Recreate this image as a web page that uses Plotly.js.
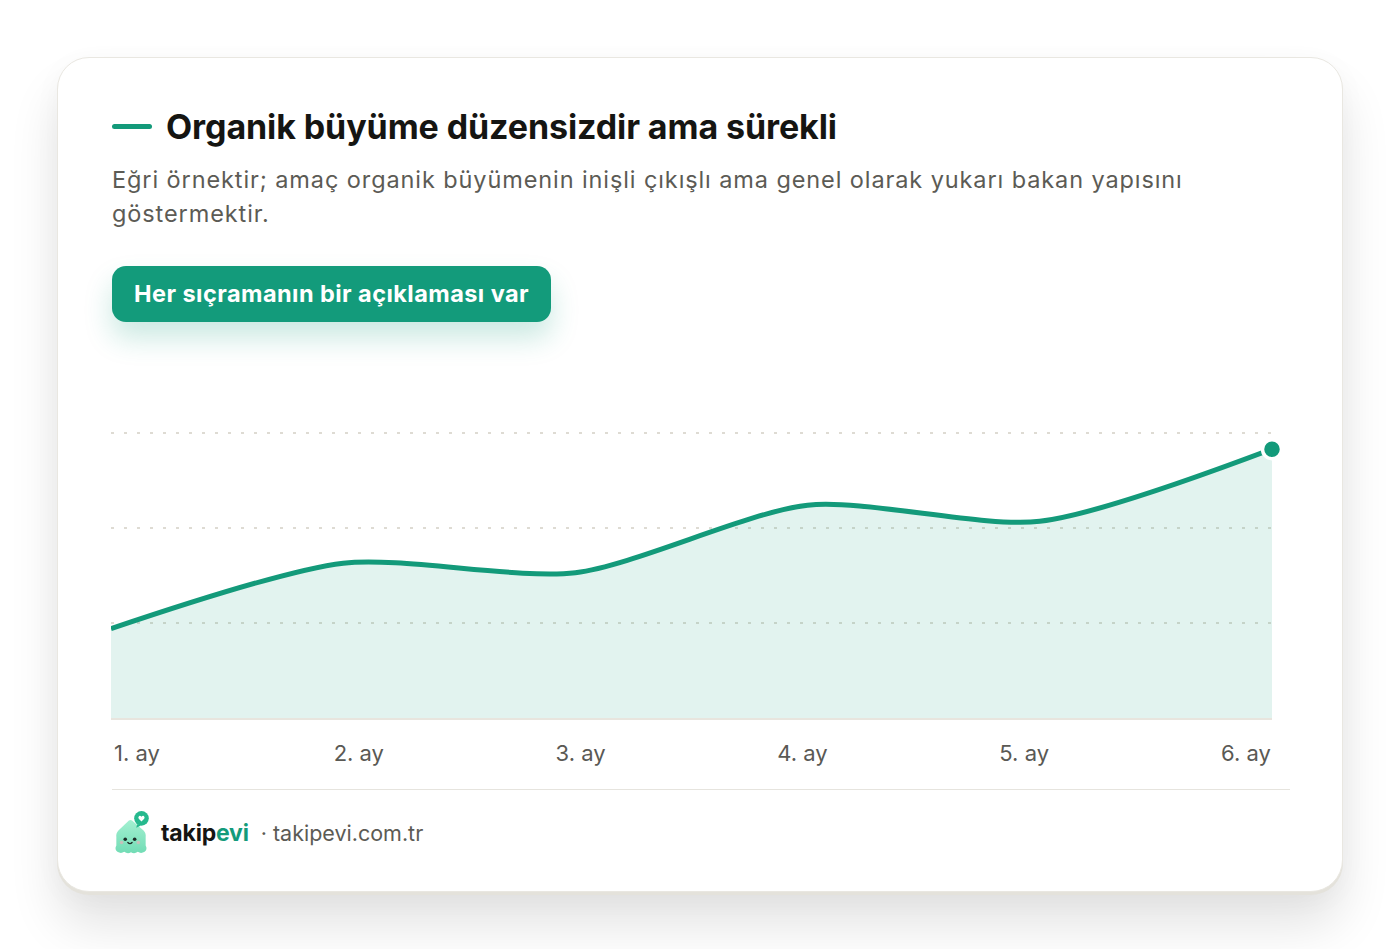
<!DOCTYPE html>
<html lang="tr">
<head>
<meta charset="utf-8">
<script src="https://cdn.plot.ly/plotly-3.0.1.min.js"></script>
<style>
  html, body { margin: 0; padding: 0; }
  body { width: 1400px; height: 949px; background: #ffffff; font-family: Inter, "Noto Sans", sans-serif; position: relative; overflow: hidden; }
  .card { position: absolute; left: 57px; top: 57px; width: 1284px; height: 833px; background: #fff; border: 1px solid #e9e7e1; border-radius: 32px;
    box-shadow: 0 3px 0 #e4e2db, 0 34px 50px rgba(0,0,0,0.11), 0 6px 30px rgba(0,0,0,0.03); }
  .title { position: absolute; left: 54px; top: 48px; display: flex; align-items: center; font-size: 34px; font-weight: 700; color: #151512; letter-spacing: -0.1px; }
  .title .dash { width: 40px; height: 5px; border-radius: 3px; background: #139a7a; margin-right: 14px; }
  .sub { position: absolute; left: 54px; top: 105px; font-size: 23.5px; line-height: 34px; color: #5c5b55; letter-spacing: 0.9px; }
  .btn { position: absolute; left: 54px; top: 208px; height: 56px; padding: 0 22px; border-radius: 14px; background: #139b7b; color: #fff;
    font-size: 23.5px; font-weight: 700; line-height: 56px; letter-spacing: 0.45px; box-shadow: 0 16px 28px rgba(19,155,123,0.22); }
  .divider { position: absolute; left: 54px; top: 731px; width: 1178px; height: 1px; background: #e6e4de; }
  .footer { position: absolute; left: 54px; top: 752px; display: flex; align-items: center; height: 45px; }
  .brand { font-size: 23px; font-weight: 700; color: #151512; margin-left: 11px; letter-spacing: -0.2px; }
  .brand span { color: #139b7b; }
  .site { font-size: 21.5px; color: #5c5b55; margin-left: 12px; }
  #chart { position: absolute; left: 57px; top: 380px; width: 1286px; height: 400px; }
</style>
</head>
<body>
<div class="card">
  <div class="title"><div class="dash"></div>Organik büyüme düzensizdir ama sürekli</div>
  <div class="sub">Eğri örnektir; amaç organik büyümenin inişli çıkışlı ama genel olarak yukarı bakan yapısını<br>göstermektir.</div>
  <div class="btn">Her sıçramanın bir açıklaması var</div>
  <div class="divider"></div>
  <div class="footer">
    <svg width="38" height="44" viewBox="0 0 36 42">
      <defs>
        <linearGradient id="g" x1="0" y1="0" x2="0" y2="1">
          <stop offset="0" stop-color="#a3f0d1"/><stop offset="1" stop-color="#72dcb5"/>
        </linearGradient>
      </defs>
      <path d="M16 9 Q17.5 8 19 9 L30 18.5 Q32.5 21 32 25 L32 33 Q34 36.5 31 39 Q27.5 41 24.5 39 Q21 41.5 18 39.3 Q15 41.5 11.5 39 Q8.5 41 5 39 Q2 36.5 4 33 L4 25 Q3.5 21 6 18.5 Z" fill="url(#g)"/>
      <circle cx="12.5" cy="27" r="1.7" fill="#1d2b26"/>
      <circle cx="21.5" cy="27" r="1.7" fill="#1d2b26"/>
      <path d="M15 30 Q17 32.2 19 30" stroke="#1d2b26" stroke-width="1.3" fill="none" stroke-linecap="round"/>
      <circle cx="9" cy="30" r="1.7" fill="#f7a9b8" opacity="0.6"/>
      <circle cx="25" cy="30" r="1.7" fill="#f7a9b8" opacity="0.6"/>
      <circle cx="28" cy="7" r="7" fill="#26b98e"/>
      <path d="M24 12.5 L23 16 L27.5 13.8 Z" fill="#26b98e"/>
      <path d="M28 10 L25.4 7.4 Q24.4 5.8 25.8 4.8 Q27 4.2 28 5.6 Q29 4.2 30.2 4.8 Q31.6 5.8 30.6 7.4 Z" fill="#fff"/>
    </svg>
    <div class="brand">takip<span>evi</span></div>
    <div class="site">· takipevi.com.tr</div>
  </div>
</div>
<div id="chart"></div>
<script>
  // Data
  const months = [0, 1, 2, 3, 4, 5];
  const monthLabels = ["1. ay", "2. ay", "3. ay", "4. ay", "5. ay", "6. ay"];
  const growth = [94, 163, 153, 224, 207, 283];
  const gridValues = [100, 200, 300];

  const green = "#139a7a";

  // Labels are spread edge-to-edge (first left-aligned, last right-aligned)
  const plotWidthPx = 1161, labelWidthPx = 52;
  const unitPx = plotWidthPx / (months.length - 1);
  const tickPositions = months.map((m, i) => m + ((months.length - 1) / 2 - i) / (months.length - 1) * labelWidthPx / unitPx);

  const lastIdx = months.length - 1;
  const traces = [
    {
      x: months, y: growth, type: "scatter", mode: "lines",
      line: { color: green, width: 5, shape: "spline", smoothing: 0.75 },
      fill: "tozeroy", fillcolor: "rgba(19,154,122,0.12)",
      hoverinfo: "skip"
    },
    {
      x: [months[lastIdx]], y: [growth[lastIdx]], type: "scatter", mode: "markers",
      marker: { color: green, size: 19, line: { color: "#ffffff", width: 3.5 } },
      cliponaxis: false, hoverinfo: "skip"
    }
  ];

  const layout = {
    width: 1286, height: 400,
    margin: { l: 54, r: 71, t: 34, b: 62 },
    paper_bgcolor: "rgba(0,0,0,0)", plot_bgcolor: "rgba(0,0,0,0)",
    showlegend: false,
    font: { family: "Inter, 'Noto Sans', sans-serif" },
    xaxis: {
      range: [months[0], months[lastIdx]], fixedrange: true,
      tickvals: tickPositions, ticktext: monthLabels,
      ticks: "", showgrid: false, zeroline: false,
      showline: true, linecolor: "#e8e5de", linewidth: 1.5,
      tickfont: { size: 22, color: "#5a5954" }, ticklabelstandoff: 15
    },
    yaxis: {
      range: [0, 320], fixedrange: true,
      tickvals: gridValues, showticklabels: false, ticks: "",
      showgrid: true, gridcolor: "#dedbd3", gridwidth: 2, griddash: "3px,10px",
      zeroline: false, showline: false
    }
  };

  Plotly.newPlot("chart", traces, layout, { displayModeBar: false, staticPlot: true });
</script>
</body>
</html>
